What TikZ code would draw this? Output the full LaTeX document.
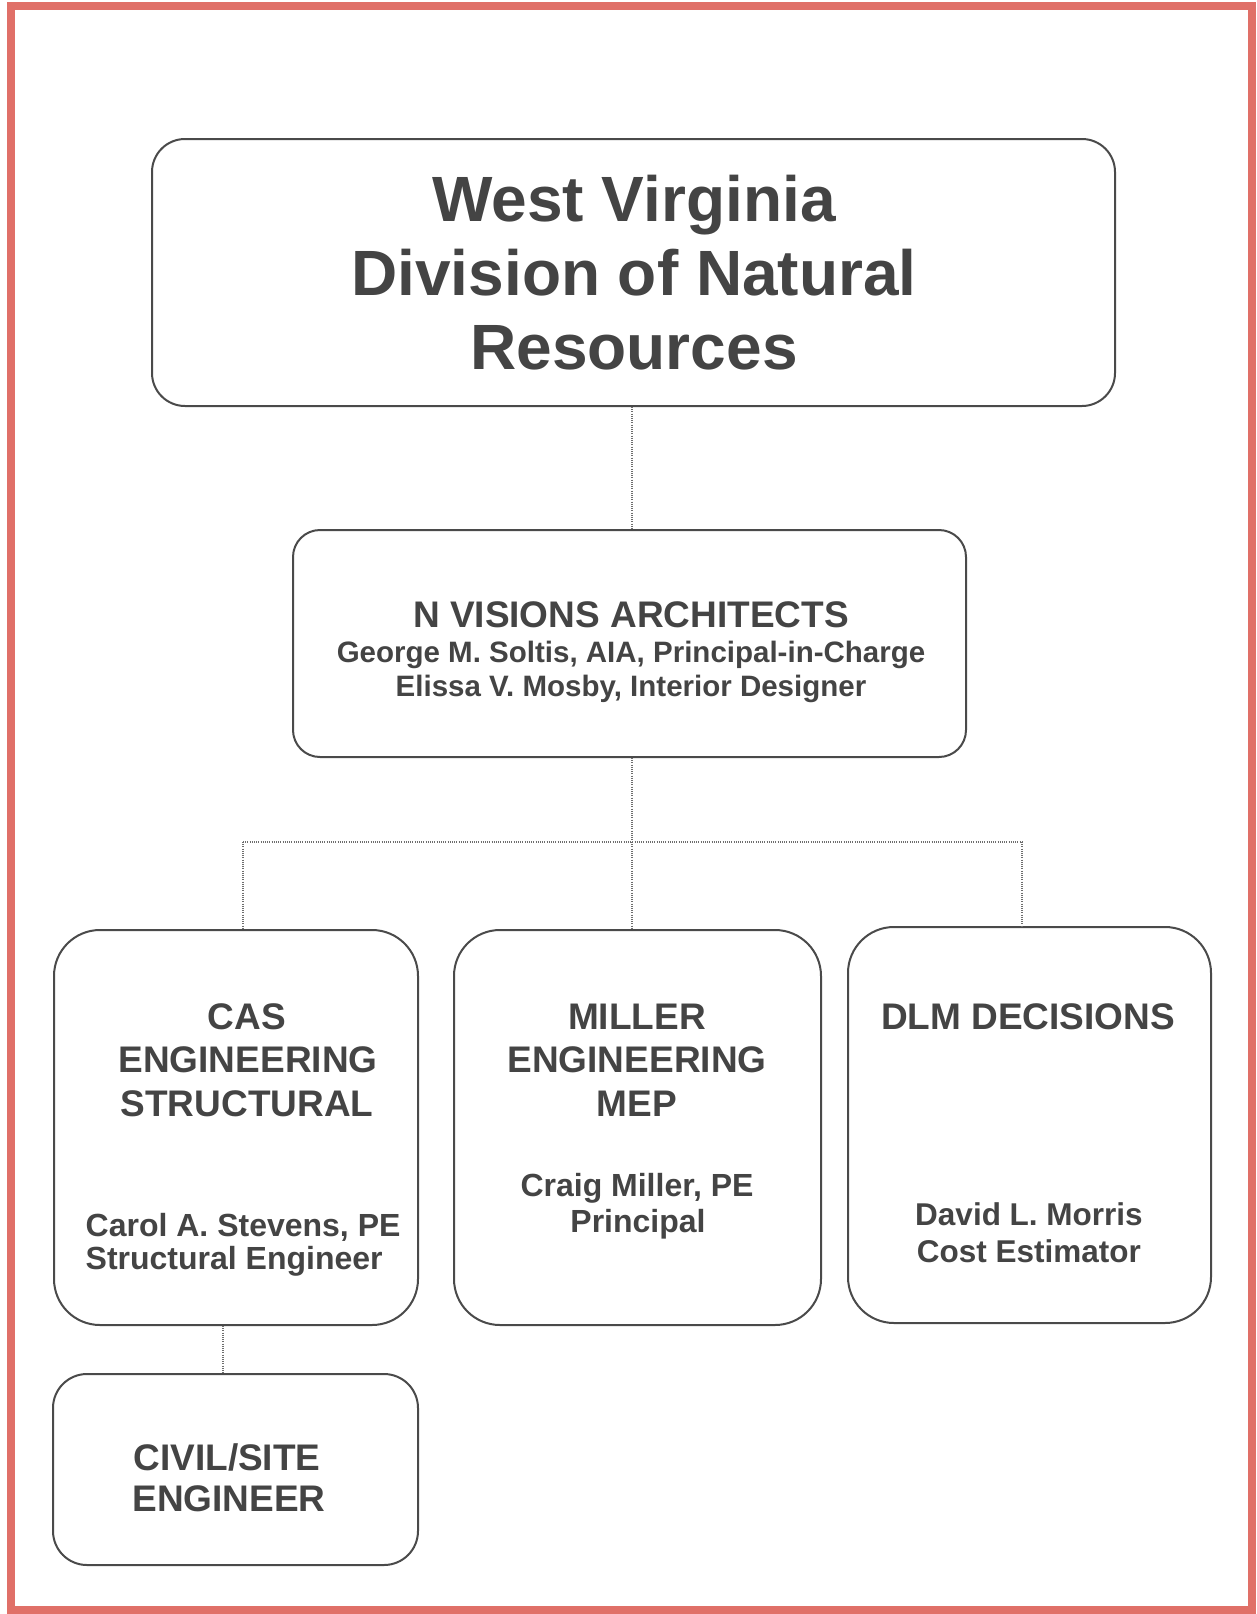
\documentclass[tikz,border=0pt]{standalone}
\usepackage{fontspec}
\setmainfont{Liberation Sans}
\definecolor{redframe}{HTML}{E07068}
\definecolor{boxline}{HTML}{4A4A4A}
\definecolor{txt}{HTML}{444444}
\begin{document}
\begin{tikzpicture}[x=1pt,y=-1pt,
  box/.style={draw=boxline,line width=2pt,rounded corners=#1,inner sep=0pt},
  box/.default=30pt,
  conn/.style={draw=boxline!80,line width=1.1pt,dash pattern=on 1pt off 1.2pt},
  ln/.style={anchor=base,inner sep=0pt,text=txt,font=\bfseries\fontsize{#1}{#1}\selectfont},
]
\useasboundingbox (0,0) rectangle (1257,1614);
\fill[white] (0,0) rectangle (1257,1614);
\draw[redframe,line width=8pt] (10.5,6) rectangle (1251.5,1609.5);

% boxes
\node[box=33pt,minimum width=963pt,minimum height=267pt] (top) at (633.5,272.5) {};
\node[box=27pt,minimum width=673pt,minimum height=227pt] (nv) at (629.5,643.5) {};
\node[box=46pt,minimum width=364pt,minimum height=395pt] (cas) at (236,1127.5) {};
\node[box=46pt,minimum width=367pt,minimum height=395pt] (mil) at (637.5,1127.5) {};
\node[box=46pt,minimum width=363pt,minimum height=396pt] (dlm) at (1029.5,1125) {};
\node[box=34pt,minimum width=365pt,minimum height=191pt] (civ) at (235.5,1469.5) {};

% connectors
\coordinate (j) at (632,842);
\coordinate (jl) at (243,842);
\coordinate (jr) at (1022,842);
\coordinate (jc) at (223,1350);
\draw[conn] (top.south -| j) -- (nv.north -| j);
\draw[conn] (nv.south -| j) -- (j);
\draw[conn] (jl) -- (jr);
\draw[conn] (jl) -- (cas.north -| jl);
\draw[conn] (j) -- (mil.north -| j);
\draw[conn] (jr) -- (dlm.north -| jr);
\draw[conn] (cas.south -| jc) -- (civ.north -| jc);

% texts
\node[ln=64] (t1) at (634,221) {West Virginia};
\node[ln=64] (t2) at (634,295) {Division of Natural};
\node[ln=64] (t3) at (634,369) {Resources};

\node[ln=37] (n1) at (631,627) {N VISIONS ARCHITECTS};
\node[ln=29.5] (n2) at (631,662.5) {George M. Soltis, AIA, Principal-in-Charge};
\node[ln=29.5] (n3) at (631,696.5) {Elissa V. Mosby, Interior Designer};

\node[ln=37] (c1) at (247,1029) {CAS};
\node[ln=37] (c2) at (248,1072) {ENGINEERING};
\node[ln=37] (c3) at (247,1116) {STRUCTURAL};
\node[ln=32,anchor=base west] (c4) at (85.5,1236.5) {Carol A. Stevens, PE};
\node[ln=32,anchor=base west] (c5) at (85.5,1269.5) {Structural Engineer};

\node[ln=37] (m1) at (637,1029) {MILLER};
\node[ln=37] (m2) at (637,1072) {ENGINEERING};
\node[ln=37] (m3) at (637,1116) {MEP};
\node[ln=32] (m4) at (637,1196.5) {Craig Miller, PE};
\node[ln=32] (m5) at (638,1232.5) {Principal};

\node[ln=37] (d1) at (1028,1029) {DLM DECISIONS};
\node[ln=31.5] (d2) at (1029,1225.5) {David L. Morris};
\node[ln=31.5] (d3) at (1029,1262.5) {Cost Estimator};

\node[ln=37] (s1) at (227,1470) {CIVIL/SITE};
\node[ln=37] (s2) at (229,1511) {ENGINEER};
\end{tikzpicture}
\end{document}
